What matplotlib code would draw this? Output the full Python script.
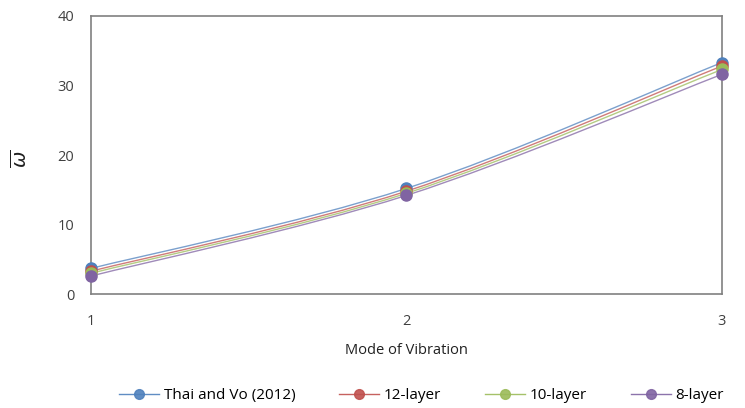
import numpy as np
import matplotlib.pyplot as plt
from matplotlib.path import Path
from matplotlib.patches import PathPatch
from matplotlib.lines import Line2D

modes = [1, 2, 3]
thai_vo = [3.7, 15.2, 33.3]
layer12 = [3.3, 14.8, 32.8]
layer10 = [3.0, 14.5, 32.3]
layer8 = [2.6, 14.2, 31.6]

series = [
    ("Thai and Vo (2012)", thai_vo, "#4F81BD"),
    ("12-layer", layer12, "#C0504D"),
    ("10-layer", layer10, "#9BBB59"),
    ("8-layer", layer8, "#8064A2"),
]

plt.rcParams['font.family'] = ['Open Sans', 'DejaVu Sans']


def smooth_path(x, y, t=1 / 6):
    # Excel-like smoothed line: cubic bezier segments through the points
    x = np.asarray(x, float)
    y = np.asarray(y, float)
    verts = [(x[0], y[0])]
    codes = [Path.MOVETO]
    n = len(x)
    for i in range(n - 1):
        x0, y0 = (x[i - 1], y[i - 1]) if i > 0 else (x[i], y[i])
        x3, y3 = (x[i + 2], y[i + 2]) if i + 2 < n else (x[i + 1], y[i + 1])
        c1 = (x[i] + (x[i + 1] - x0) * t, y[i] + (y[i + 1] - y0) * t)
        c2 = (x[i + 1] - (x3 - x[i]) * t, y[i + 1] - (y3 - y[i]) * t)
        verts += [c1, c2, (x[i + 1], y[i + 1])]
        codes += [Path.CURVE4] * 3
    return Path(verts, codes)


fig = plt.figure(figsize=(7.45, 4.08), dpi=100)
ax = fig.add_axes([0.122, 0.279, 0.847, 0.682])

handles = []
for label, vals, color in series:
    ax.add_patch(PathPatch(smooth_path(modes, vals), facecolor='none',
                           edgecolor=color, lw=1.0, alpha=0.75, zorder=2))
    ax.plot(modes, vals, 'o', color=color, ms=8, zorder=3, clip_on=False)
    handles.append(Line2D([], [], color=color, lw=1.0, alpha=0.9,
                          marker='o', ms=7, markeredgecolor=color,
                          markerfacecolor=color, label=label))

ax.set_xlim(1, 3)
ax.set_ylim(0, 40)
ax.set_xticks([1, 2, 3])
ax.set_yticks([0, 10, 20, 30, 40])
ax.tick_params(axis='both', length=0, labelsize=10.5, colors='#404040')
ax.tick_params(axis='x', pad=14)
ax.tick_params(axis='y', pad=12)
for sp in ax.spines.values():
    sp.set_color('#808080')
    sp.set_linewidth(1.2)

ax.set_xlabel("Mode of Vibration", fontsize=10.5, color='#202020', labelpad=10)
fig.text(0.027, 0.61, r'$\overline{\omega}$', rotation=90, fontsize=14,
         ha='center', va='center', color='#202020')

fig.legend(handles=handles, loc='center', bbox_to_anchor=(0.566, 0.03),
           ncol=4, frameon=False, fontsize=11, handlelength=2.6,
           columnspacing=2.9, handletextpad=0.3)

fig.savefig("out.png", dpi=100)
